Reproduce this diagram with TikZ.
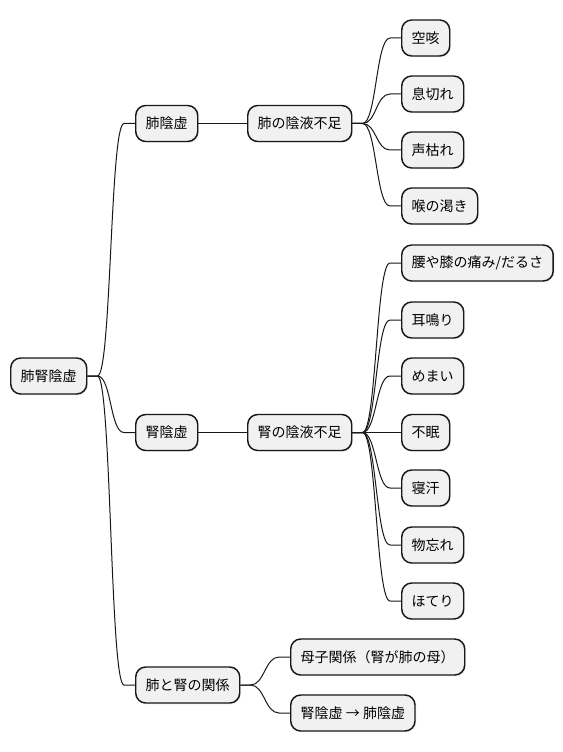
\documentclass[tikz,border=0pt]{standalone}
\usepackage{fontspec}
\setmainfont{Noto Sans CJK JP}
\usetikzlibrary{calc,shadows}

\definecolor{boxfill}{HTML}{F1F1F1}
\definecolor{ink}{HTML}{181818}

\begin{document}
\begin{tikzpicture}[x=0.75pt,y=-0.75pt,semithick]
  \tikzset{topic/.style={draw=ink,fill=boxfill,line width=1.1pt,rounded corners=7.5pt,
             anchor=west,minimum height=27pt,inner xsep=7.5pt,inner ysep=0pt,
             font=\fontsize{10.5}{12}\selectfont,
             drop shadow={shadow xshift=1pt,shadow yshift=-1pt,opacity=0.12}},
           branch/.style={draw=ink,line width=0.75pt,
             to path={-- ++(10,0)
               .. controls ($(\tikztostart)+(24,0)$) and ($(\tikztotarget)+(-25,0)$)
               .. ($(\tikztotarget)+(-11,0)$) -- (\tikztotarget)}}}
  \useasboundingbox (0,0) rectangle (563,752);

  \node[topic] (root)   at (10,376)  {肺腎陰虚};

  \node[topic] (hai)    at (135,123.5) {肺陰虚};
  \node[topic] (haieki) at (247,123.5) {肺の陰液不足};
  \node[topic] (seki)   at (401,38)  {空咳};
  \node[topic] (iki)    at (401,94)  {息切れ};
  \node[topic] (koe)    at (401,150) {声枯れ};
  \node[topic] (nodo)   at (401,206) {喉の渇き};

  \node[topic] (jin)    at (135,432.5) {腎陰虚};
  \node[topic] (jineki) at (247,432.5) {腎の陰液不足};
  \node[topic] (koshi)  at (401,263) {腰や膝の痛み/だるさ};
  \node[topic] (miru)   at (401,320) {耳鳴り};
  \node[topic] (memai)  at (401,376) {めまい};
  \node[topic] (fumin)  at (401,432.5) {不眠};
  \node[topic] (nease)  at (401,488) {寝汗};
  \node[topic] (wasure) at (401,545) {物忘れ};
  \node[topic] (hoteri) at (401,601) {ほてり};

  \node[topic] (kankei) at (135,685) {肺と腎の関係};
  \node[topic] (boshi)  at (290,657) {母子関係（腎が肺の母）};
  \node[topic] (den)    at (290,713) {腎陰虚 → 肺陰虚};

  \path (root.east)   edge[branch] (hai.west)
                      edge[branch] (jin.west)
                      edge[branch] (kankei.west)
        (hai.east)    edge[branch] (haieki.west)
        (haieki.east) edge[branch] (seki.west)
                      edge[branch] (iki.west)
                      edge[branch] (koe.west)
                      edge[branch] (nodo.west)
        (jin.east)    edge[branch] (jineki.west)
        (jineki.east) edge[branch] (koshi.west)
                      edge[branch] (miru.west)
                      edge[branch] (memai.west)
                      edge[branch] (fumin.west)
                      edge[branch] (nease.west)
                      edge[branch] (wasure.west)
                      edge[branch] (hoteri.west)
        (kankei.east) edge[branch] (boshi.west)
                      edge[branch] (den.west);
\end{tikzpicture}
\end{document}
